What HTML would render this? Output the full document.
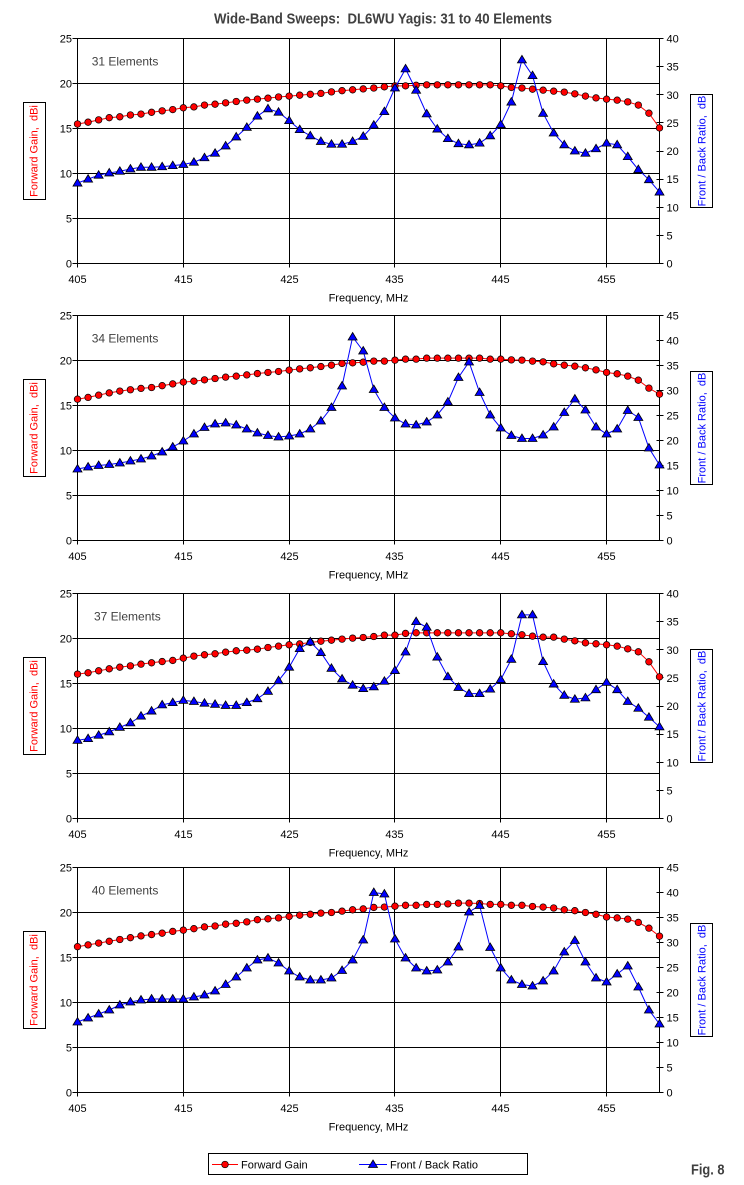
<!DOCTYPE html>
<html><head><meta charset="utf-8">
<style>
html,body{margin:0;padding:0;background:#fff;}
svg{display:block;}
text{font-family:"Liberation Sans",Arial,sans-serif;}
</style></head>
<body>
<svg id="s" width="744" height="1185" viewBox="0 0 744 1185" xmlns="http://www.w3.org/2000/svg">
<rect width="744" height="1185" fill="#fff"/>
<g id="plots"></g>

<text x="214" y="23.3" font-size="14.5" font-weight="bold" fill="#404040" textLength="338" lengthAdjust="spacingAndGlyphs" style="white-space:pre">Wide-Band Sweeps:  DL6WU Yagis: 31 to 40 Elements</text>

<!-- Chart 1 -->
<g font-size="11" fill="#000">
<text x="72" y="42.5" text-anchor="end">25</text>
<text x="72" y="87.5" text-anchor="end">20</text>
<text x="72" y="132.5" text-anchor="end">15</text>
<text x="72" y="177.5" text-anchor="end">10</text>
<text x="72" y="222.5" text-anchor="end">5</text>
<text x="72" y="267.5" text-anchor="end">0</text>
<text x="666.5" y="42.5">40</text>
<text x="666.5" y="70.6">35</text>
<text x="666.5" y="98.75">30</text>
<text x="666.5" y="126.9">25</text>
<text x="666.5" y="155">20</text>
<text x="666.5" y="183.1">15</text>
<text x="666.5" y="211.25">10</text>
<text x="666.5" y="239.4">5</text>
<text x="666.5" y="267.5">0</text>
<text x="77.5" y="283" text-anchor="middle">405</text>
<text x="183.5" y="283" text-anchor="middle">415</text>
<text x="289.5" y="283" text-anchor="middle">425</text>
<text x="394.5" y="283" text-anchor="middle">435</text>
<text x="500.5" y="283" text-anchor="middle">445</text>
<text x="606.5" y="283" text-anchor="middle">455</text>
<text x="368.5" y="301.5" text-anchor="middle">Frequency, MHz</text>
</g>
<text x="91.7" y="65.5" font-size="12" fill="#404040">31 Elements</text>
<rect x="23.5" y="102.5" width="22" height="97" fill="#fff" stroke="#000"/>
<text transform="translate(37.3,151) rotate(-90)" text-anchor="middle" font-size="11" fill="#f00" style="white-space:pre">Forward Gain,  dBi</text>
<rect x="690.5" y="94.5" width="22" height="113" fill="#fff" stroke="#000"/>
<text transform="translate(705.3,151) rotate(-90)" text-anchor="middle" font-size="11" fill="#00f" style="white-space:pre">Front / Back Ratio,  dB</text>

<!-- Chart 2 -->
<g font-size="11" fill="#000">
<text x="72" y="319.5" text-anchor="end">25</text>
<text x="72" y="364.5" text-anchor="end">20</text>
<text x="72" y="409.5" text-anchor="end">15</text>
<text x="72" y="454.5" text-anchor="end">10</text>
<text x="72" y="499.5" text-anchor="end">5</text>
<text x="72" y="544.5" text-anchor="end">0</text>
<text x="666.5" y="319.5">45</text>
<text x="666.5" y="344.5">40</text>
<text x="666.5" y="369.5">35</text>
<text x="666.5" y="394.5">30</text>
<text x="666.5" y="419.5">25</text>
<text x="666.5" y="444.5">20</text>
<text x="666.5" y="469.5">15</text>
<text x="666.5" y="494.5">10</text>
<text x="666.5" y="519.5">5</text>
<text x="666.5" y="544.5">0</text>
<text x="77.5" y="560" text-anchor="middle">405</text>
<text x="183.5" y="560" text-anchor="middle">415</text>
<text x="289.5" y="560" text-anchor="middle">425</text>
<text x="394.5" y="560" text-anchor="middle">435</text>
<text x="500.5" y="560" text-anchor="middle">445</text>
<text x="606.5" y="560" text-anchor="middle">455</text>
<text x="368.5" y="578.5" text-anchor="middle">Frequency, MHz</text>
</g>
<text x="91.7" y="342.5" font-size="12" fill="#404040">34 Elements</text>
<rect x="23.5" y="379.5" width="22" height="97" fill="#fff" stroke="#000"/>
<text transform="translate(37.3,428) rotate(-90)" text-anchor="middle" font-size="11" fill="#f00" style="white-space:pre">Forward Gain,  dBi</text>
<rect x="690.5" y="371.5" width="22" height="113" fill="#fff" stroke="#000"/>
<text transform="translate(705.3,428) rotate(-90)" text-anchor="middle" font-size="11" fill="#00f" style="white-space:pre">Front / Back Ratio,  dB</text>

<!-- Chart 3 -->
<g font-size="11" fill="#000">
<text x="72" y="597.5" text-anchor="end">25</text>
<text x="72" y="642.5" text-anchor="end">20</text>
<text x="72" y="687.5" text-anchor="end">15</text>
<text x="72" y="732.5" text-anchor="end">10</text>
<text x="72" y="777.5" text-anchor="end">5</text>
<text x="72" y="822.5" text-anchor="end">0</text>
<text x="666.5" y="597.5">40</text>
<text x="666.5" y="625.6">35</text>
<text x="666.5" y="653.75">30</text>
<text x="666.5" y="681.9">25</text>
<text x="666.5" y="710">20</text>
<text x="666.5" y="738.1">15</text>
<text x="666.5" y="766.25">10</text>
<text x="666.5" y="794.4">5</text>
<text x="666.5" y="822.5">0</text>
<text x="77.5" y="838" text-anchor="middle">405</text>
<text x="183.5" y="838" text-anchor="middle">415</text>
<text x="289.5" y="838" text-anchor="middle">425</text>
<text x="394.5" y="838" text-anchor="middle">435</text>
<text x="500.5" y="838" text-anchor="middle">445</text>
<text x="606.5" y="838" text-anchor="middle">455</text>
<text x="368.5" y="856.5" text-anchor="middle">Frequency, MHz</text>
</g>
<text x="94" y="620.5" font-size="12" fill="#404040">37 Elements</text>
<rect x="23.5" y="657.5" width="22" height="97" fill="#fff" stroke="#000"/>
<text transform="translate(37.3,706) rotate(-90)" text-anchor="middle" font-size="11" fill="#f00" style="white-space:pre">Forward Gain,  dBi</text>
<rect x="690.5" y="649.5" width="22" height="113" fill="#fff" stroke="#000"/>
<text transform="translate(705.3,706) rotate(-90)" text-anchor="middle" font-size="11" fill="#00f" style="white-space:pre">Front / Back Ratio,  dB</text>

<!-- Chart 4 -->
<g font-size="11" fill="#000">
<text x="72" y="871.5" text-anchor="end">25</text>
<text x="72" y="916.5" text-anchor="end">20</text>
<text x="72" y="961.5" text-anchor="end">15</text>
<text x="72" y="1006.5" text-anchor="end">10</text>
<text x="72" y="1051.5" text-anchor="end">5</text>
<text x="72" y="1096.5" text-anchor="end">0</text>
<text x="666.5" y="871.5">45</text>
<text x="666.5" y="896.5">40</text>
<text x="666.5" y="921.5">35</text>
<text x="666.5" y="946.5">30</text>
<text x="666.5" y="971.5">25</text>
<text x="666.5" y="996.5">20</text>
<text x="666.5" y="1021.5">15</text>
<text x="666.5" y="1046.5">10</text>
<text x="666.5" y="1071.5">5</text>
<text x="666.5" y="1096.5">0</text>
<text x="77.5" y="1112" text-anchor="middle">405</text>
<text x="183.5" y="1112" text-anchor="middle">415</text>
<text x="289.5" y="1112" text-anchor="middle">425</text>
<text x="394.5" y="1112" text-anchor="middle">435</text>
<text x="500.5" y="1112" text-anchor="middle">445</text>
<text x="606.5" y="1112" text-anchor="middle">455</text>
<text x="368.5" y="1130.5" text-anchor="middle">Frequency, MHz</text>
</g>
<text x="91.7" y="894.5" font-size="12" fill="#404040">40 Elements</text>
<rect x="23.5" y="931.5" width="22" height="97" fill="#fff" stroke="#000"/>
<text transform="translate(37.3,980) rotate(-90)" text-anchor="middle" font-size="11" fill="#f00" style="white-space:pre">Forward Gain,  dBi</text>
<rect x="690.5" y="923.5" width="22" height="113" fill="#fff" stroke="#000"/>
<text transform="translate(705.3,980) rotate(-90)" text-anchor="middle" font-size="11" fill="#00f" style="white-space:pre">Front / Back Ratio,  dB</text>

<!-- Legend -->
<rect x="208.5" y="1153.5" width="319" height="21" fill="#fff" stroke="#000"/>
<path d="M212 1164.5H238" stroke="#f00" stroke-width="1" fill="none"/>
<circle cx="225" cy="1164.5" r="3.3" fill="#f00" stroke="#000" stroke-width="0.7"/>
<text x="241" y="1168.5" font-size="11" fill="#000">Forward Gain</text>
<path d="M359 1164.5H387" stroke="#00f" stroke-width="1" fill="none"/>
<path d="M373 1160L377.5 1167.5H368.5Z" fill="#00f" stroke="#000" stroke-width="0.8"/>
<text x="390" y="1168.5" font-size="11" fill="#000">Front / Back Ratio</text>

<text x="691" y="1174.3" font-size="15" font-weight="bold" fill="#404040" textLength="33.5" lengthAdjust="spacingAndGlyphs">Fig. 8</text>
</svg>

<script>
(function(){
const NS="http://www.w3.org/2000/svg";
const g=document.getElementById('plots');
function el(n,a){const e=document.createElementNS(NS,n);for(const k in a)e.setAttribute(k,a[k]);g.appendChild(e);return e;}
const L=77.5,R=659.5,W=582,H=225;
function X(j){return L+j*W/55;}
const charts=[
{T:38.5,rm:40,
G:[15.5,15.7,15.96,16.2,16.3,16.5,16.6,16.8,16.96,17.1,
17.3,17.4,17.6,17.7,17.85,18.0,18.15,18.26,18.37,18.5,
18.6,18.7,18.8,18.9,19.07,19.2,19.3,19.4,19.5,19.63,
19.74,19.74,19.8,19.85,19.85,19.85,19.85,19.85,19.85,19.85,
19.74,19.56,19.5,19.37,19.26,19.15,19.04,18.85,18.6,18.4,
18.26,18.15,17.96,17.6,16.7,15.07],
F:[14.3,15.0,15.7,16.1,16.4,16.8,17.1,17.1,17.2,17.4,
17.6,18.0,18.8,19.6,20.9,22.5,24.2,26.2,27.5,26.9,
25.4,23.8,22.7,21.7,21.2,21.2,21.7,22.6,24.6,27.0,
31.2,34.6,30.8,26.6,23.9,22.2,21.3,21.1,21.4,22.7,
24.7,28.7,36.2,33.4,26.7,23.2,21.1,20.0,19.6,20.4,
21.4,21.1,19.0,16.7,14.9,12.7]},
{T:315.5,rm:45,
G:[15.7,15.9,16.15,16.4,16.6,16.75,16.9,17.0,17.2,17.4,
17.6,17.7,17.85,18.0,18.15,18.26,18.4,18.55,18.67,18.78,
18.93,19.07,19.19,19.33,19.48,19.67,19.74,19.81,19.93,19.93,
20.04,20.15,20.15,20.26,20.26,20.26,20.26,20.26,20.26,20.15,
20.15,20.07,20.04,19.93,19.85,19.63,19.48,19.37,19.19,18.96,
18.67,18.52,18.26,17.81,16.93,16.26],
F:[14.3,14.7,15.0,15.2,15.5,15.9,16.3,16.9,17.7,18.7,
19.9,21.3,22.6,23.3,23.5,23.1,22.3,21.5,21.0,20.7,
20.9,21.3,22.3,23.9,26.6,30.9,40.7,37.9,30.2,26.6,
24.5,23.3,23.1,23.7,25.1,27.7,32.6,35.7,29.6,25.1,
22.5,21.0,20.4,20.4,21.1,22.7,25.6,28.3,26.1,22.7,
21.3,22.3,26.0,24.6,18.5,15.1]},
{T:593.5,rm:40,
G:[16.04,16.19,16.41,16.63,16.81,16.96,17.15,17.3,17.44,17.56,
17.81,18.04,18.19,18.3,18.48,18.63,18.7,18.81,19.0,19.15,
19.3,19.4,19.56,19.7,19.81,19.93,20.04,20.11,20.22,20.37,
20.37,20.56,20.63,20.63,20.63,20.63,20.63,20.63,20.63,20.63,
20.63,20.52,20.41,20.26,20.15,20.15,19.93,19.74,19.52,19.41,
19.3,19.15,18.85,18.52,17.41,15.74],
F:[13.9,14.2,14.8,15.4,16.2,17.0,18.2,19.1,20.2,20.6,
21.0,20.8,20.5,20.3,20.1,20.1,20.6,21.3,22.6,24.5,
26.9,30.2,31.4,29.5,26.7,24.8,23.7,23.1,23.4,24.4,
26.3,29.6,35.0,34.0,28.7,25.2,23.3,22.2,22.2,23.0,
24.7,28.3,36.2,36.2,27.9,23.9,21.9,21.2,21.45,22.9,
24.2,22.9,20.8,19.6,18.0,16.3]},
{T:867.5,rm:45,
G:[16.2,16.4,16.6,16.8,17.0,17.2,17.4,17.55,17.7,17.9,
18.04,18.2,18.4,18.5,18.7,18.8,18.96,19.2,19.3,19.4,
19.56,19.7,19.8,19.93,20.0,20.15,20.3,20.4,20.56,20.6,
20.7,20.8,20.8,20.9,20.9,20.96,21.04,21.04,21.0,20.9,
20.9,20.8,20.8,20.67,20.6,20.5,20.3,20.2,20.0,19.8,
19.5,19.4,19.26,18.9,18.26,17.37],
F:[14.1,14.9,15.7,16.5,17.5,18.1,18.5,18.7,18.7,18.7,
18.7,19.1,19.5,20.3,21.6,23.1,24.9,26.5,26.9,25.9,
24.3,23.1,22.5,22.5,22.9,24.4,26.5,30.5,40.0,39.7,
30.7,26.9,24.9,24.3,24.5,26.1,29.1,36.1,37.4,29.0,
24.9,22.5,21.6,21.3,22.3,24.3,28.1,30.4,26.1,22.9,
22.1,23.7,25.3,21.1,16.5,13.7]}
];
function line(p){
 let d='M'+p[0][0].toFixed(2)+' '+p[0][1].toFixed(2);
 for(let i=1;i<p.length;i++){d+='L'+p[i][0].toFixed(2)+' '+p[i][1].toFixed(2);}
 return d;
}
charts.forEach(c=>{
 const T=c.T,B=T+H;
 let d='';
 for(let k=1;k<5;k++){const y=T+45*k;d+='M'+L+' '+y+'H'+R;}
 for(let f=415;f<=455;f+=10){const x=Math.floor(X(f-405))+0.5;d+='M'+x+' '+T+'V'+(B+4);}
 for(let k=0;k<=5;k++){const y=T+45*k;d+='M'+(L-5)+' '+y+'H'+L;}
 d+='M'+L+' '+B+'V'+(B+4);
 const n=c.rm/5;
 for(let k=0;k<=n;k++){const y=Math.floor(T+H*k/n)+0.5;d+='M'+(R-3)+' '+y+'H'+(R+4);}
 el('path',{d:d,stroke:'#000','stroke-width':1,fill:'none','shape-rendering':'crispEdges'});
 el('rect',{x:L,y:T,width:W,height:H,fill:'none',stroke:'#000','stroke-width':1,'shape-rendering':'crispEdges'});
 const pg=c.G.map((v,j)=>[X(j),T+H*(1-v/25)]);
 const pf=c.F.map((v,j)=>[X(j),T+H*(1-v/c.rm)]);
 el('path',{d:line(pg),stroke:'#f00','stroke-width':1,fill:'none'});
 pg.forEach(p=>el('circle',{cx:p[0],cy:p[1],r:3.3,fill:'#f00',stroke:'#000','stroke-width':0.7}));
 el('path',{d:line(pf),stroke:'#00f','stroke-width':1,fill:'none'});
 pf.forEach(p=>{const x=p[0],y=p[1];
  el('path',{d:'M'+x.toFixed(2)+' '+(y-4.5).toFixed(2)+'L'+(x+4.5).toFixed(2)+' '+(y+3).toFixed(2)+'H'+(x-4.5).toFixed(2)+'Z',fill:'#00f',stroke:'#000','stroke-width':0.8});
 });
});
})();
</script>
</body></html>
